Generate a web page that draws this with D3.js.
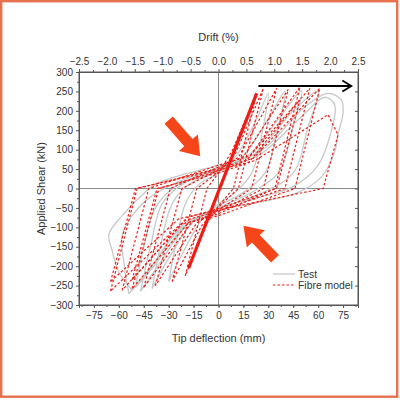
<!DOCTYPE html>
<html>
<head>
<meta charset="utf-8">
<script src="https://d3js.org/d3.v7.min.js"></script>
<style>
  body { margin: 0; background: #fff; }
  svg text { font-family: "Liberation Sans", Arial, sans-serif; fill: #333; }
</style>
</head>
<body>
<div id="chart"></div>
<script>
// axis ticks
var deflTicks = [-75, -60, -45, -30, -15, 0, 15, 30, 45, 60, 75];
var driftTicks = [-2.5, -2.0, -1.5, -1.0, -0.5, 0.0, 0.5, 1.0, 1.5, 2.0, 2.5];
var shearTicks = [-300, -250, -200, -150, -100, -50, 0, 50, 100, 150, 200, 250, 300];

// measured response (tip deflection mm, applied shear kN)
var testLoops = [
  [[-30,-240],[-26,-150],[-20,-40],[-12,10],[0,40],[10,80],[22,170],[30,245],[27,160],[20,40],[10,-10],[0,-40],[-10,-80],[-22,-170],[-30,-240]],
  [[-40,-258],[-35,-150],[-28,-40],[-18,10],[0,45],[14,80],[30,180],[40,250],[36,160],[28,40],[15,-10],[0,-45],[-15,-85],[-30,-180],[-40,-258]],
  [[-47,-265],[-41,-150],[-34,-40],[-22,10],[0,50],[18,85],[38,190],[50,252],[45,160],[36,40],[20,-10],[0,-50],[-18,-90],[-35,-190],[-47,-265]],
  [[-54,-271],[-57,-190],[-58,-120],[-52,-70],[-42,-25],[-28,10],[0,55],[22,90],[45,200],[60,250],[54,160],[45,40],[26,-12],[0,-52],[-22,-95],[-40,-200],[-54,-271]],
  [[-50,-255],[-45,-150],[-38,-50],[-26,5],[0,52],[24,85],[50,185],[64,235],[70,215],[68,150],[60,60],[45,5],[22,-25],[0,-50],[-20,-95],[-38,-195],[-50,-255]],
  [[-52,-262],[-60,-215],[-64,-160],[-66,-118],[-58,-70],[-48,-25],[-36,15],[0,60],[25,95],[52,210],[66,245],[74,228],[75,195],[72,140],[70,95],[62,30],[48,-10],[25,-35],[0,-55],[-22,-100],[-42,-210],[-52,-262]]
];

// fibre model response
var modelLoops = [
  [[-20,-225],[-7,0],[0,40],[8,95],[23,245],[9,0],[0,-45],[-7,-90],[-20,-225]],
  [[-28,-240],[-13,0],[0,42],[10,88],[27,258],[12,0],[0,-48],[-10,-95],[-28,-240]],
  [[-38,-250],[-22,0],[0,48],[12,80],[35,258],[20,0],[0,-55],[-13,-88],[-38,-250]],
  [[-45,-255],[-29,0],[0,55],[15,82],[42,255],[27,0],[0,-60],[-16,-86],[-45,-255]],
  [[-52,-258],[-36,0],[0,45],[17,72],[49,261],[34,0],[0,-65],[-18,-88],[-52,-258]],
  [[-52,-235],[-37,0],[0,40],[18,66],[49,228],[35,0],[0,-52],[-19,-75],[-52,-235]],
  [[-58,-262],[-42,0],[0,60],[19,84],[55,258],[40,0],[0,-58],[-20,-82],[-58,-262]],
  [[-65,-264],[-49,0],[0,52],[21,78],[61,258],[46,0],[0,-70],[-23,-92],[-65,-264]],
  [[-65,-240],[-50,0],[0,48],[22,72],[66,190],[72,138],[63,0],[0,-55],[-24,-78],[-65,-240]]
];
// dense initial cycles
var modelCore = [[-18,-205],[23,245]];

// annotations in data units
var pushArrows = [
  {from: [-30, 176], to: [-11, 83]},
  {from: [34, -181], to: [15, -96]}
];
var dirArrow = {from: [24, 264], to: [80, 264]};

var margin = {top: 72, right: 42, bottom: 95, left: 79},
    width = 400 - margin.left - margin.right,
    height = 400 - margin.top - margin.bottom;

var root = d3.select("#chart").append("svg")
    .attr("width", 400)
    .attr("height", 400);

root.append("rect")
    .attr("x", 1.2).attr("y", 1.2)
    .attr("width", 396).attr("height", 395.5)
    .attr("fill", "#fff")
    .attr("stroke", "#e5714e")
    .attr("stroke-width", 2.4);

var svg = root.append("g")
    .attr("transform", "translate(" + margin.left + "," + margin.top + ")");

var x = d3.scaleLinear().domain([-84, 84]).range([0, width]);
var xTop = d3.scaleLinear().domain([-2.5, 2.5]).range([0, width]);
var y = d3.scaleLinear().domain([-300, 300]).range([height, 0]);

// zero lines
svg.append("line")
    .attr("x1", x(0)).attr("x2", x(0)).attr("y1", 0).attr("y2", height)
    .attr("stroke", "#8a8a8a").attr("stroke-width", 1);
svg.append("line")
    .attr("x1", 0).attr("x2", width).attr("y1", y(0)).attr("y2", y(0))
    .attr("stroke", "#8a8a8a").attr("stroke-width", 1);

// curves
var testLine = d3.line()
    .x(function(d){ return x(d[0]); })
    .y(function(d){ return y(d[1]); })
    .curve(d3.curveCatmullRom.alpha(0.5));
var modelLine = d3.line()
    .x(function(d){ return x(d[0]); })
    .y(function(d){ return y(d[1]); });

svg.append("g").selectAll("path")
  .data(testLoops)
  .enter()
  .append("path")
    .attr("d", testLine)
    .attr("fill", "none")
    .attr("stroke", "#c6caca")
    .attr("stroke-width", 1.3);

svg.append("path")
    .datum(modelCore)
    .attr("d", modelLine)
    .attr("fill", "none")
    .attr("stroke", "#ee1c14")
    .attr("stroke-width", 3.2);

svg.append("g").selectAll("path")
  .data(modelLoops)
  .enter()
  .append("path")
    .attr("d", modelLine)
    .attr("fill", "none")
    .attr("stroke", "#e8221c")
    .attr("stroke-width", 1.2)
    .attr("stroke-dasharray", "2.5,2");

// frame
svg.append("rect")
    .attr("width", width).attr("height", height)
    .attr("fill", "none")
    .attr("stroke", "#555")
    .attr("stroke-width", 1);

function styleAxis(g){
  g.select(".domain").attr("stroke", "#555");
  g.selectAll(".tick line").attr("stroke", "#555");
  g.selectAll(".tick text")
    .attr("font-size", "10px")
    .attr("font-family", "Liberation Sans, Arial, sans-serif")
    .attr("fill", "#333");
}

var minorDefl = d3.range(-82.5, 84, 7.5);
var minorDrift = d3.range(-2.25, 2.5, 0.5);
var minorShear = d3.range(-275, 300, 50);

svg.append("g")
    .attr("transform", "translate(0," + height + ")")
    .call(d3.axisBottom(x).tickValues(deflTicks).tickSize(3).tickPadding(4))
    .call(styleAxis);
svg.append("g")
    .attr("transform", "translate(0," + height + ")")
    .call(d3.axisBottom(x).tickValues(minorDefl).tickSize(2).tickFormat(""))
    .call(styleAxis);

svg.append("g")
    .call(d3.axisTop(xTop).tickValues(driftTicks).tickSize(3).tickPadding(4).tickFormat(d3.format(".1f")))
    .call(styleAxis);
svg.append("g")
    .call(d3.axisTop(xTop).tickValues(minorDrift).tickSize(2).tickFormat(""))
    .call(styleAxis);

svg.append("g")
    .call(d3.axisLeft(y).tickValues(shearTicks).tickSize(3).tickPadding(3))
    .call(styleAxis);
svg.append("g")
    .call(d3.axisLeft(y).tickValues(minorShear).tickSize(2).tickFormat(""))
    .call(styleAxis);

svg.append("g")
    .attr("transform", "translate(" + width + ",0)")
    .call(d3.axisLeft(y).tickValues(shearTicks).tickSize(3).tickFormat(""))
    .call(styleAxis);

// axis titles
svg.append("text")
    .attr("text-anchor", "middle")
    .attr("x", width / 2)
    .attr("y", height + 37)
    .attr("font-size", "11px")
    .text("Tip deflection (mm)");

svg.append("text")
    .attr("text-anchor", "middle")
    .attr("x", width / 2)
    .attr("y", -31)
    .attr("font-size", "11px")
    .text("Drift (%)");

svg.append("text")
    .attr("text-anchor", "middle")
    .attr("transform", "translate(-34," + (height / 2) + ")rotate(-90)")
    .attr("font-size", "11px")
    .text("Applied Shear (kN)");

// orange push arrows
function blockArrow(a){
  var x1 = x(a.from[0]), y1 = y(a.from[1]), x2 = x(a.to[0]), y2 = y(a.to[1]);
  var L = Math.sqrt((x2 - x1) * (x2 - x1) + (y2 - y1) * (y2 - y1));
  var ang = Math.atan2(y2 - y1, x2 - x1) * 180 / Math.PI;
  var hw = 5.5, hh = 12.5, hl = 18;
  var pts = [[0,-hw],[L-hl,-hw],[L-hl,-hh],[L,0],[L-hl,hh],[L-hl,hw],[0,hw]];
  svg.append("polygon")
    .attr("points", pts.map(function(p){ return p.join(","); }).join(" "))
    .attr("transform", "translate(" + x1 + "," + y1 + ")rotate(" + ang + ")")
    .attr("fill", "#f5461a");
}
pushArrows.forEach(blockArrow);

// loading direction arrow
var ax1 = x(dirArrow.from[0]), ax2 = x(dirArrow.to[0]), ay = y(dirArrow.from[1]);
svg.append("line")
    .attr("x1", ax1).attr("x2", ax2).attr("y1", ay).attr("y2", ay)
    .attr("stroke", "#000").attr("stroke-width", 1.8);
svg.append("polyline")
    .attr("points", (ax2 - 9) + "," + (ay - 5.5) + " " + ax2 + "," + ay + " " + (ax2 - 9) + "," + (ay + 5.5))
    .attr("fill", "none")
    .attr("stroke", "#000")
    .attr("stroke-width", 1.8);

// legend
var legend = svg.append("g")
    .attr("transform", "translate(194,202)");
legend.append("line")
    .attr("x1", 0).attr("x2", 22).attr("y1", 0).attr("y2", 0)
    .attr("stroke", "#c6caca").attr("stroke-width", 1.3);
legend.append("text")
    .attr("x", 25).attr("y", 4)
    .attr("font-size", "10.4px")
    .text("Test");
legend.append("line")
    .attr("x1", 0).attr("x2", 22).attr("y1", 11).attr("y2", 11)
    .attr("stroke", "#e8221c").attr("stroke-width", 1.2)
    .attr("stroke-dasharray", "2.5,2");
legend.append("text")
    .attr("x", 25).attr("y", 15)
    .attr("font-size", "10.4px")
    .text("Fibre model");
</script>
</body>
</html>
